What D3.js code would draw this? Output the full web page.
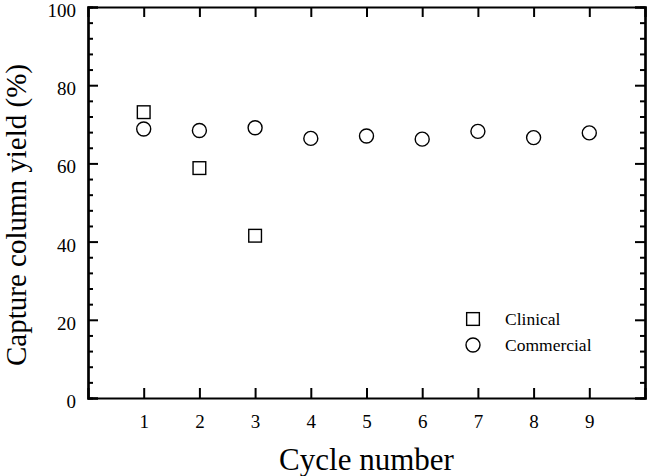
<!DOCTYPE html>
<html>
<head>
<meta charset="utf-8">
<script src="https://cdn.jsdelivr.net/npm/d3@7"></script>
<style>
  body { margin: 0; background: #fff; }
  svg { display: block; font-family: "Liberation Serif", "Times New Roman", serif; }
</style>
</head>
<body>
<div id="chart"></div>
<script>
const cycles = [1, 2, 3, 4, 5, 6, 7, 8, 9];
const clinicalCycles = [1, 2, 3];
const clinicalYield = [73.1, 58.8, 41.5];
const commercialYield = [68.8, 68.4, 69.1, 66.4, 67.0, 66.2, 68.2, 66.6, 67.8];
const yTicks = [0, 20, 40, 60, 80, 100];
const seriesNames = ['Clinical', 'Commercial'];

const width = 647, height = 476;
const margin = { left: 88, right: 2, top: 7, bottom: 78 };

const svg = d3.select('#chart').append('svg')
  .attr('width', width).attr('height', height);

const x = d3.scaleLinear().domain([0, 10]).range([margin.left, width - margin.right]);
const y = d3.scaleLinear().domain([0, 100]).range([height - margin.bottom, margin.top]);

const minorY = d3.range(0, 101, 4).filter(v => v % 20 !== 0);

// axes, ticks drawn inward
svg.append('g').attr('transform', `translate(0,${y(0)})`)
  .call(d3.axisBottom(x).tickValues(cycles).tickSize(-10).tickPadding(17).tickFormat(d3.format('d')));
svg.append('g').attr('transform', `translate(0,${y(100)})`)
  .call(d3.axisTop(x).tickValues(cycles).tickSize(-10).tickFormat(''));
const yAxisG = svg.append('g').attr('transform', `translate(${x(0)},0)`)
  .call(d3.axisLeft(y).tickValues(yTicks).tickSize(-10).tickPadding(12));
svg.append('g').attr('transform', `translate(${x(10)},0)`)
  .call(d3.axisRight(y).tickValues(yTicks).tickSize(-10).tickFormat(''));

svg.append('g').attr('transform', `translate(${x(0)},0)`)
  .call(d3.axisLeft(y).tickValues(minorY).tickSize(-5).tickFormat(''));
svg.append('g').attr('transform', `translate(${x(10)},0)`)
  .call(d3.axisRight(y).tickValues(minorY).tickSize(-5).tickFormat(''));

svg.selectAll('.domain').attr('stroke', '#000').attr('stroke-width', 2.2);
svg.selectAll('.tick line').attr('stroke', '#000').attr('stroke-width', 2);
svg.selectAll('.tick text').attr('fill', '#000').style('font-size', '19px')
  .style('font-family', '"Liberation Serif", "Times New Roman", serif');
yAxisG.selectAll('.tick text').attr('dy', '0.5em');

// axis titles
svg.append('text')
  .attr('x', (x(0) + x(10)) / 2).attr('y', 470)
  .attr('text-anchor', 'middle').style('font-size', '31px')
  .text('Cycle number');
svg.append('text')
  .attr('transform', 'translate(26,215) rotate(-90)')
  .attr('text-anchor', 'middle').style('font-size', '29px')
  .text('Capture column yield (%)');

// data
const sq = 12.7;
svg.append('g').selectAll('rect')
  .data(clinicalCycles.map((c, i) => ({ c, v: clinicalYield[i] })))
  .enter().append('rect')
  .attr('x', d => x(d.c) - sq / 2).attr('y', d => y(d.v) - sq / 2)
  .attr('width', sq).attr('height', sq)
  .attr('fill', 'none').attr('stroke', '#000').attr('stroke-width', 1.4);

svg.append('g').selectAll('circle')
  .data(cycles.map((c, i) => ({ c, v: commercialYield[i] })))
  .enter().append('circle')
  .attr('cx', d => x(d.c)).attr('cy', d => y(d.v)).attr('r', 7)
  .attr('fill', 'none').attr('stroke', '#000').attr('stroke-width', 1.4);

// legend
const legend = svg.append('g').attr('transform', 'translate(473,319)');
legend.append('rect').attr('x', -sq / 2).attr('y', -sq / 2).attr('width', sq).attr('height', sq)
  .attr('fill', 'none').attr('stroke', '#000').attr('stroke-width', 1.4);
legend.append('circle').attr('cx', 0).attr('cy', 26).attr('r', 7)
  .attr('fill', 'none').attr('stroke', '#000').attr('stroke-width', 1.4);
legend.selectAll('text').data(seriesNames).enter().append('text')
  .attr('x', 32).attr('y', (d, i) => i * 26 + 6)
  .style('font-size', '17.5px').text(d => d);
</script>
</body>
</html>
